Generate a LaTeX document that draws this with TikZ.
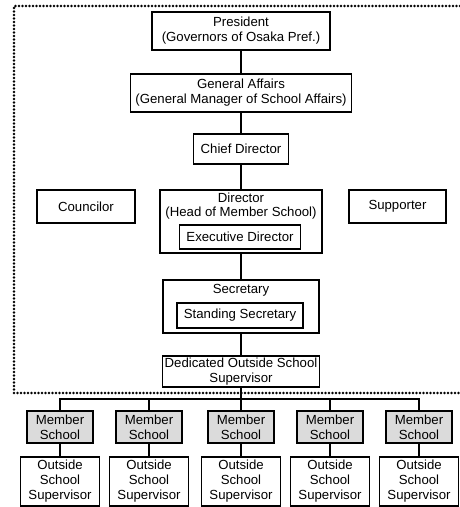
\documentclass[tikz,border=0pt]{standalone}
\usepackage{fontspec}
\setmainfont{Liberation Sans}
\usetikzlibrary{positioning,calc}

\tikzset{
  box/.style={draw,line width=1.3pt,align=center,inner sep=1pt,font=\fontsize{13.2}{15}\selectfont},
  memberbox/.style={box,fill=gray!28,minimum width=66pt,minimum height=32pt},
  supbox/.style={box,minimum width=79pt,minimum height=49pt},
  frame/.style={line width=2.8pt,line cap=round,dash pattern=on 0pt off 3.5pt}
}

\begin{document}
\begin{tikzpicture}[x=1pt,y=-1pt,line width=1.3pt]
\useasboundingbox (0,0) rectangle (460,507);
% dotted frame round the board
\draw[frame] (460,6) -- (14,6) -- (14,393) -- (460,393);
% central chain
\node[box,minimum width=178pt,minimum height=38pt] (pres) at (241,31) {President\\(Governors of Osaka Pref.)};
\node[box,minimum width=221pt,minimum height=38pt] (gen) at (241,93) {General Affairs\\(General Manager of School Affairs)};
\node[box,minimum width=95pt,minimum height=30pt] (chief) at (241,149) {Chief Director};
\node[box,minimum width=162pt,minimum height=63pt] (dir) at (241,221.5) {};
\node[align=center,inner sep=1pt,font=\fontsize{13.2}{14}\selectfont,anchor=north] (dirlbl) at ($(dir.north)+(0,2)$) {Director\\(Head of Member School)};
\node[box,minimum width=121pt,minimum height=24pt] (exec) at (240,237) {Executive Director};
\node[box,minimum width=98pt,minimum height=33pt] (coun) at (86,206.5) {Councilor};
\node[box,minimum width=97pt,minimum height=33pt] (supp) at (397.5,206.5) {Supporter};
\node[box,minimum width=156pt,minimum height=53pt] (sec) at (241,306.5) {};
\node[inner sep=1pt,font=\fontsize{13.2}{15}\selectfont,anchor=north] (seclbl) at ($(sec.north)+(0,3)$) {Secretary};
\node[box,minimum width=126pt,minimum height=25pt] (stand) at (240,315.5) {Standing Secretary};
\node[box,minimum width=157pt,minimum height=31pt] (ded) at (241,371.5) {Dedicated Outside School\\Supervisor};
\coordinate (bus) at (241,399);
\draw (pres) -- (gen);
\draw (gen) -- (chief);
\draw (chief) -- (dir);
\draw (dir) -- (sec);
\draw (sec) -- (ded);
\draw (ded) -- (bus);
% member schools
\foreach \i/\x in {1/60,2/149,3/241,4/330,5/419}{
  \node[memberbox] (ms\i) at (\x,427) {Member\\School};
  \node[supbox] (os\i) at (\x,481.5) {Outside\\School\\Supervisor};
  \draw (ms\i.north) |- (bus);
  \draw (ms\i) -- (os\i);
}
\end{tikzpicture}
\end{document}
